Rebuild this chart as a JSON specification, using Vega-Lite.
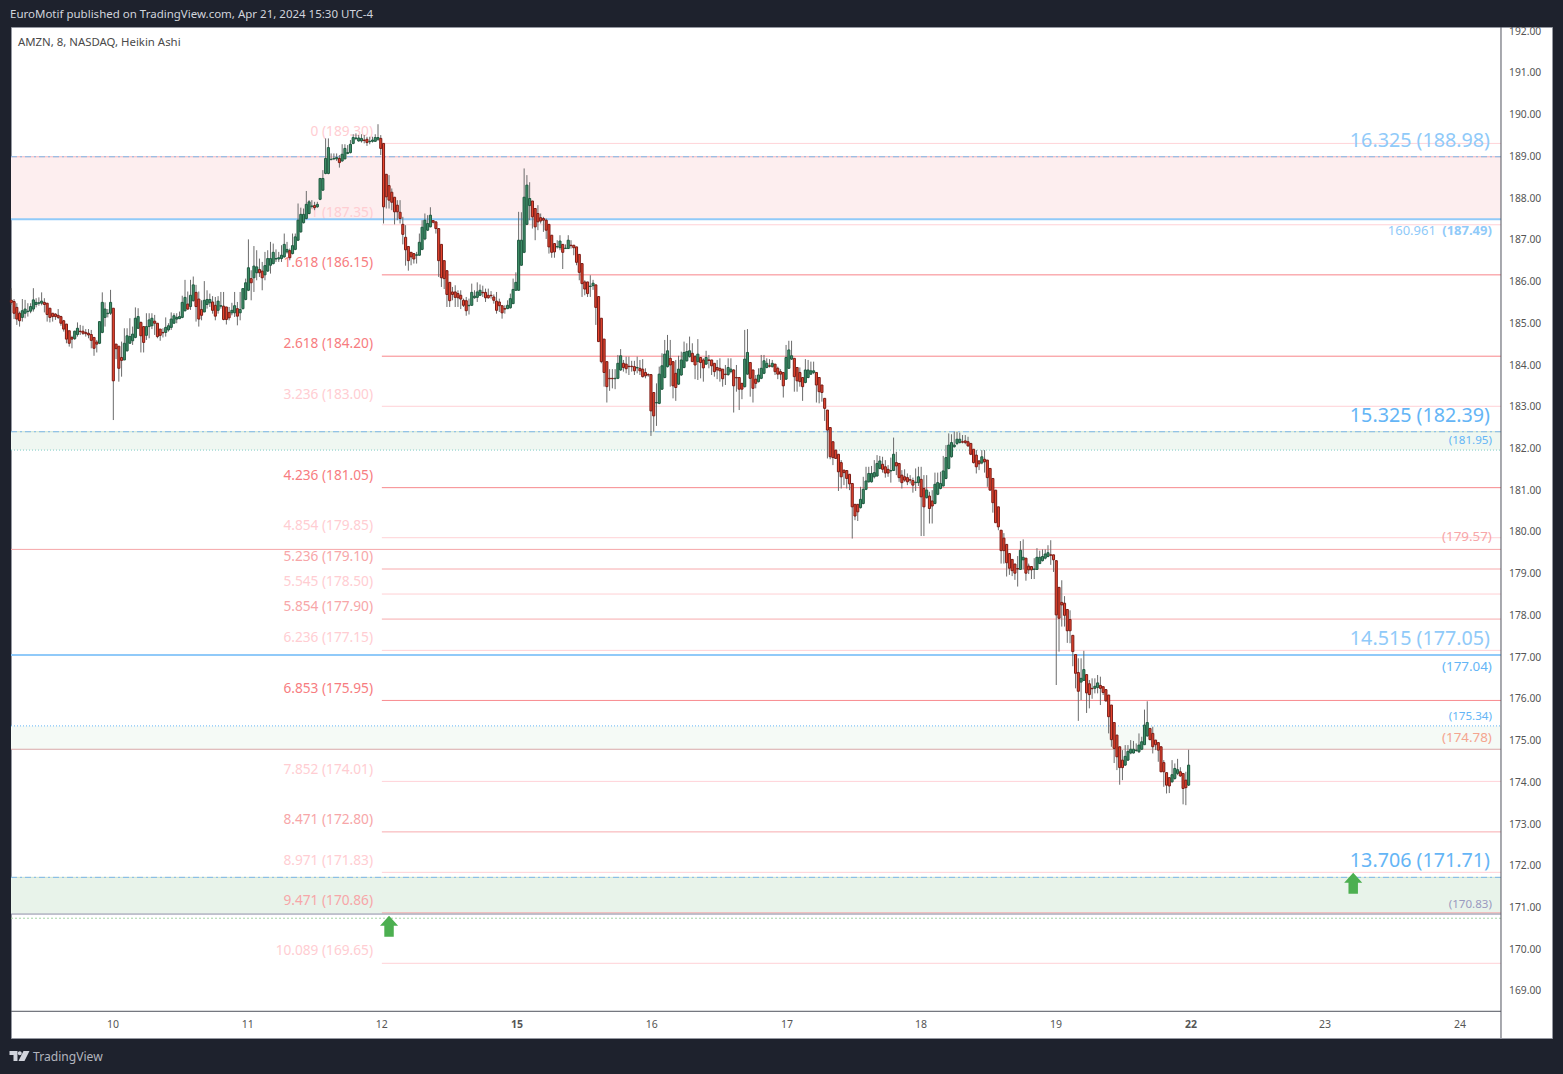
{
"$schema":"https://vega.github.io/schema/vega-lite/v6.json",
"width":1541,"height":1011,
"padding":{"left":11,"top":27,"right":11,"bottom":36},
"autosize":{"type":"none"},
"background":"#1e222d",
"view":{"fill":"#ffffff","stroke":"#9598a1"},
"config":{"text":{"font":"Noto Sans"}},
"resolve":{"scale":{"color":"independent","size":"independent","strokeDash":"independent","strokeWidth":"independent"}},
"datasets":{
"zones":[
{"zone":"pink","n":0.89,"to":541.3,"p":188.98,"p2":187.47},
{"zone":"green1","n":0.89,"to":541.3,"p":182.39,"p2":181.95},
{"zone":"green2","n":0.89,"to":541.3,"p":175.34,"p2":174.78},
{"zone":"green3","n":0.89,"to":541.3,"p":171.71,"p2":170.83}
],
"levels":[
{"p":189.30,"n":135.4,"to":541.3,"style":"fibPale"},
{"p":187.35,"n":135.4,"to":541.3,"style":"fibPale"},
{"p":186.15,"n":135.4,"to":541.3,"style":"fibStrong"},
{"p":184.20,"n":135.4,"to":541.3,"style":"fibStrong"},
{"p":183.00,"n":135.4,"to":541.3,"style":"fibPale"},
{"p":181.05,"n":135.4,"to":541.3,"style":"fibStrong"},
{"p":179.85,"n":135.4,"to":541.3,"style":"fibPale"},
{"p":179.10,"n":135.4,"to":541.3,"style":"fibMid"},
{"p":178.50,"n":135.4,"to":541.3,"style":"fibPale"},
{"p":177.90,"n":135.4,"to":541.3,"style":"fibMid"},
{"p":177.15,"n":135.4,"to":541.3,"style":"fibPale"},
{"p":175.95,"n":135.4,"to":541.3,"style":"fibStrong"},
{"p":174.01,"n":135.4,"to":541.3,"style":"fibPale"},
{"p":172.80,"n":135.4,"to":541.3,"style":"fibMid"},
{"p":171.83,"n":135.4,"to":541.3,"style":"fibPale"},
{"p":170.86,"n":135.4,"to":541.3,"style":"fibMid"},
{"p":169.65,"n":135.4,"to":541.3,"style":"fibPale"},
{"p":188.98,"n":0.89,"to":541.3,"style":"pinkBase"},
{"p":188.98,"n":0.89,"to":541.3,"style":"blueDash"},
{"p":187.48,"n":0.89,"to":541.3,"style":"blueThick"},
{"p":182.39,"n":0.89,"to":541.3,"style":"greenBase"},
{"p":182.39,"n":0.89,"to":541.3,"style":"blueDash"},
{"p":181.95,"n":0.89,"to":541.3,"style":"dotGreen"},
{"p":179.57,"n":0.89,"to":541.3,"style":"fibMid"},
{"p":177.04,"n":0.89,"to":541.3,"style":"blueThick"},
{"p":175.34,"n":0.89,"to":541.3,"style":"dotBlue"},
{"p":174.78,"n":0.89,"to":541.3,"style":"greyPink"},
{"p":171.71,"n":0.89,"to":541.3,"style":"greenBase"},
{"p":171.71,"n":0.89,"to":541.3,"style":"blueDash"},
{"p":170.83,"n":0.89,"to":541.3,"style":"purple"},
{"p":170.73,"n":0.89,"to":541.3,"style":"dotLight"},
{"p":168.50,"n":0.89,"to":541.3,"style":"axisLine"}
],
"frame":[{"n":541.3,"to":541.3,"p":192.09,"p2":167.86}],
"bars":[
{"n":1,"o":185.54,"c":185.49,"h":185.83,"l":185.43},{"n":2,"o":185.51,"c":185.23,"h":185.57,"l":185.09},{"n":3,"o":185.37,"c":185.09,"h":185.47,"l":184.95},{"n":4,"o":185.23,"c":185.05,"h":185.27,"l":184.91},{"n":5,"o":185.13,"c":185.29,"h":185.57,"l":185.03},{"n":6,"o":185.23,"c":185.33,"h":185.55,"l":185.11},{"n":7,"o":185.27,"c":185.28,"h":185.47,"l":185.15},{"n":8,"o":185.28,"c":185.39,"h":185.47,"l":185.23},{"n":9,"o":185.33,"c":185.55,"h":185.83,"l":185.27},{"n":10,"o":185.44,"c":185.49,"h":185.59,"l":185.37},
{"n":11,"o":185.47,"c":185.48,"h":185.61,"l":185.41},{"n":12,"o":185.47,"c":185.52,"h":185.73,"l":185.42},{"n":13,"o":185.49,"c":185.44,"h":185.59,"l":185.25},{"n":14,"o":185.47,"c":185.20,"h":185.47,"l":185.03},{"n":15,"o":185.35,"c":185.13,"h":185.35,"l":185.01},{"n":16,"o":185.23,"c":185.15,"h":185.23,"l":185.03},{"n":17,"o":185.21,"c":185.15,"h":185.23,"l":185.07},{"n":18,"o":185.18,"c":185.13,"h":185.33,"l":185.09},{"n":19,"o":185.15,"c":184.99,"h":185.17,"l":184.93},{"n":20,"o":185.05,"c":184.85,"h":185.07,"l":184.79},
{"n":21,"o":184.97,"c":184.61,"h":184.97,"l":184.51},{"n":22,"o":184.81,"c":184.51,"h":184.81,"l":184.43},{"n":23,"o":184.65,"c":184.61,"h":184.69,"l":184.39},{"n":24,"o":184.62,"c":184.80,"h":184.81,"l":184.59},{"n":25,"o":184.72,"c":184.87,"h":185.01,"l":184.67},{"n":26,"o":184.80,"c":184.79,"h":184.95,"l":184.71},{"n":27,"o":184.80,"c":184.75,"h":184.93,"l":184.71},{"n":28,"o":184.77,"c":184.74,"h":184.85,"l":184.67},{"n":29,"o":184.75,"c":184.71,"h":184.85,"l":184.63},{"n":30,"o":184.72,"c":184.58,"h":184.83,"l":184.39},
{"n":31,"o":184.65,"c":184.39,"h":184.65,"l":184.21},{"n":32,"o":184.54,"c":184.49,"h":184.59,"l":184.29},{"n":33,"o":184.51,"c":185.03,"h":185.03,"l":184.49},{"n":34,"o":184.77,"c":185.49,"h":185.73,"l":184.75},{"n":35,"o":185.13,"c":185.33,"h":185.49,"l":184.91},{"n":36,"o":185.22,"c":185.23,"h":185.33,"l":185.13},{"n":37,"o":185.23,"c":185.49,"h":185.79,"l":185.19},{"n":38,"o":185.35,"c":183.61,"h":185.35,"l":182.67},{"n":39,"o":184.49,"c":184.38,"h":184.49,"l":184.13},{"n":40,"o":184.44,"c":183.91,"h":184.44,"l":183.59},
{"n":41,"o":184.17,"c":184.10,"h":184.55,"l":183.71},{"n":42,"o":184.11,"c":184.51,"h":184.87,"l":184.11},{"n":43,"o":184.33,"c":184.69,"h":184.87,"l":184.31},{"n":44,"o":184.51,"c":184.67,"h":185.11,"l":184.51},{"n":45,"o":184.57,"c":184.73,"h":184.91,"l":184.47},{"n":46,"o":184.65,"c":185.11,"h":185.37,"l":184.63},{"n":47,"o":184.87,"c":185.15,"h":185.35,"l":184.85},{"n":48,"o":185.01,"c":184.69,"h":185.03,"l":184.29},{"n":49,"o":184.91,"c":184.53,"h":184.91,"l":184.29},{"n":50,"o":184.70,"c":184.91,"h":185.23,"l":184.59},
{"n":51,"o":184.91,"c":185.07,"h":185.23,"l":184.63},{"n":52,"o":184.93,"c":185.11,"h":185.23,"l":184.85},{"n":53,"o":185.04,"c":184.99,"h":185.19,"l":184.71},{"n":54,"o":184.99,"c":184.67,"h":184.99,"l":184.63},{"n":55,"o":184.85,"c":184.70,"h":184.85,"l":184.57},{"n":56,"o":184.77,"c":184.76,"h":184.87,"l":184.65},{"n":57,"o":184.77,"c":184.89,"h":185.13,"l":184.67},{"n":58,"o":184.83,"c":184.93,"h":184.99,"l":184.79},{"n":59,"o":184.89,"c":185.09,"h":185.25,"l":184.83},{"n":60,"o":184.99,"c":185.17,"h":185.23,"l":184.99},
{"n":61,"o":185.09,"c":185.13,"h":185.23,"l":184.99},{"n":62,"o":185.10,"c":185.15,"h":185.27,"l":185.09},{"n":63,"o":185.13,"c":185.49,"h":185.65,"l":185.11},{"n":64,"o":185.29,"c":185.61,"h":186.03,"l":185.27},{"n":65,"o":185.45,"c":185.33,"h":185.75,"l":185.31},{"n":66,"o":185.39,"c":185.66,"h":186.03,"l":185.31},{"n":67,"o":185.53,"c":185.91,"h":186.11,"l":185.51},{"n":68,"o":185.73,"c":185.39,"h":185.91,"l":185.03},{"n":69,"o":185.57,"c":185.09,"h":185.75,"l":184.91},{"n":70,"o":185.32,"c":185.18,"h":185.54,"l":185.06},
{"n":71,"o":185.26,"c":185.54,"h":186.00,"l":185.26},{"n":72,"o":185.44,"c":185.56,"h":185.78,"l":185.34},{"n":73,"o":185.48,"c":185.56,"h":185.70,"l":185.38},{"n":74,"o":185.50,"c":185.30,"h":185.64,"l":185.22},{"n":75,"o":185.42,"c":185.16,"h":185.62,"l":185.06},{"n":76,"o":185.30,"c":185.52,"h":185.64,"l":185.22},{"n":77,"o":185.40,"c":185.41,"h":185.74,"l":185.34},{"n":78,"o":185.40,"c":185.08,"h":185.74,"l":185.06},{"n":79,"o":185.38,"c":185.08,"h":185.38,"l":184.96},{"n":80,"o":185.25,"c":185.12,"h":185.38,"l":185.06},
{"n":81,"o":185.24,"c":185.30,"h":185.48,"l":185.18},{"n":82,"o":185.24,"c":185.41,"h":185.74,"l":185.14},{"n":83,"o":185.34,"c":185.16,"h":185.50,"l":184.94},{"n":84,"o":185.24,"c":185.32,"h":185.74,"l":185.06},{"n":85,"o":185.34,"c":185.82,"h":185.82,"l":185.32},{"n":86,"o":185.56,"c":185.96,"h":186.06,"l":185.54},{"n":87,"o":185.78,"c":186.32,"h":187.00,"l":185.76},{"n":88,"o":186.06,"c":185.96,"h":186.26,"l":185.54},{"n":89,"o":186.08,"c":186.36,"h":186.84,"l":185.74},{"n":90,"o":186.20,"c":186.34,"h":186.74,"l":186.02},
{"n":91,"o":186.28,"c":186.20,"h":186.54,"l":186.10},{"n":92,"o":186.24,"c":186.08,"h":186.46,"l":185.78},{"n":93,"o":186.15,"c":186.37,"h":186.70,"l":186.02},{"n":94,"o":186.24,"c":186.54,"h":186.74,"l":186.22},{"n":95,"o":186.38,"c":186.54,"h":186.94,"l":186.18},{"n":96,"o":186.42,"c":186.69,"h":186.90,"l":186.40},{"n":97,"o":186.53,"c":186.54,"h":186.76,"l":186.46},{"n":98,"o":186.53,"c":186.56,"h":186.70,"l":186.46},{"n":99,"o":186.54,"c":186.62,"h":186.86,"l":186.46},{"n":100,"o":186.58,"c":186.88,"h":187.14,"l":186.56},
{"n":101,"o":186.70,"c":186.76,"h":186.94,"l":186.66},{"n":102,"o":186.73,"c":186.56,"h":186.78,"l":186.50},{"n":103,"o":186.66,"c":186.85,"h":187.14,"l":186.64},{"n":104,"o":186.76,"c":187.06,"h":187.14,"l":186.74},{"n":105,"o":186.98,"c":187.46,"h":187.86,"l":186.96},{"n":106,"o":187.18,"c":187.60,"h":187.76,"l":187.16},{"n":107,"o":187.40,"c":187.60,"h":187.74,"l":187.38},{"n":108,"o":187.50,"c":187.84,"h":188.16,"l":187.48},{"n":109,"o":187.62,"c":187.90,"h":187.94,"l":187.60},{"n":110,"o":187.79,"c":187.80,"h":187.94,"l":187.74},
{"n":111,"o":187.81,"c":187.76,"h":187.90,"l":187.70},{"n":112,"o":187.78,"c":187.84,"h":187.90,"l":187.76},{"n":113,"o":187.96,"c":188.46,"h":188.46,"l":187.94},{"n":114,"o":188.18,"c":188.46,"h":188.66,"l":188.16},{"n":115,"o":188.58,"c":188.94,"h":189.42,"l":188.56},{"n":116,"o":188.58,"c":189.20,"h":189.42,"l":188.56},{"n":117,"o":188.91,"c":188.92,"h":189.06,"l":188.90},{"n":118,"o":188.93,"c":188.94,"h":189.06,"l":188.90},{"n":119,"o":188.93,"c":188.96,"h":189.06,"l":188.88},{"n":120,"o":188.94,"c":188.84,"h":189.02,"l":188.72},
{"n":121,"o":188.88,"c":189.04,"h":189.28,"l":188.86},{"n":122,"o":188.93,"c":189.18,"h":189.28,"l":188.92},{"n":123,"o":189.06,"c":189.08,"h":189.26,"l":189.04},{"n":124,"o":189.08,"c":189.28,"h":189.38,"l":189.06},{"n":125,"o":189.30,"c":189.44,"h":189.52,"l":189.28},{"n":126,"o":189.42,"c":189.43,"h":189.54,"l":189.38},{"n":127,"o":189.36,"c":189.43,"h":189.50,"l":189.34},{"n":128,"o":189.36,"c":189.42,"h":189.52,"l":189.32},{"n":129,"o":189.38,"c":189.37,"h":189.50,"l":189.30},{"n":130,"o":189.40,"c":189.32,"h":189.46,"l":189.24},
{"n":131,"o":189.34,"c":189.35,"h":189.46,"l":189.28},{"n":132,"o":189.35,"c":189.38,"h":189.46,"l":189.32},{"n":133,"o":189.35,"c":189.44,"h":189.52,"l":189.34},{"n":134,"o":189.40,"c":189.44,"h":189.76,"l":189.36},{"n":135,"o":189.42,"c":189.18,"h":189.50,"l":189.02},{"n":136,"o":189.30,"c":187.78,"h":189.30,"l":187.38},{"n":137,"o":188.56,"c":188.02,"h":188.56,"l":187.74},{"n":138,"o":188.29,"c":187.94,"h":188.54,"l":187.74},{"n":139,"o":188.13,"c":187.89,"h":188.22,"l":187.70},{"n":140,"o":188.01,"c":187.66,"h":188.01,"l":187.36},
{"n":141,"o":187.82,"c":187.66,"h":187.94,"l":187.46},{"n":142,"o":187.65,"c":187.50,"h":187.94,"l":187.38},{"n":143,"o":187.36,"c":187.12,"h":187.54,"l":186.88},{"n":144,"o":187.05,"c":186.75,"h":187.34,"l":186.37},{"n":145,"o":186.83,"c":186.49,"h":186.83,"l":186.25},{"n":146,"o":186.69,"c":186.58,"h":186.69,"l":186.38},{"n":147,"o":186.66,"c":186.53,"h":186.66,"l":186.42},{"n":148,"o":186.62,"c":186.63,"h":186.70,"l":186.42},{"n":149,"o":186.62,"c":186.93,"h":187.14,"l":186.61},{"n":150,"o":186.76,"c":187.29,"h":187.46,"l":186.74},
{"n":151,"o":187.01,"c":187.46,"h":187.62,"l":186.98},{"n":152,"o":187.22,"c":187.38,"h":187.58,"l":187.20},{"n":153,"o":187.30,"c":187.58,"h":187.77,"l":187.29},{"n":154,"o":187.45,"c":187.41,"h":187.46,"l":187.38},{"n":155,"o":187.42,"c":187.26,"h":187.42,"l":187.14},{"n":156,"o":187.26,"c":186.49,"h":187.26,"l":186.10},{"n":157,"o":186.88,"c":186.08,"h":186.88,"l":185.86},{"n":158,"o":186.49,"c":186.06,"h":186.49,"l":185.81},{"n":159,"o":186.25,"c":185.68,"h":186.25,"l":185.38},{"n":160,"o":185.97,"c":185.53,"h":185.97,"l":185.38},
{"n":161,"o":185.74,"c":185.68,"h":185.86,"l":185.54},{"n":162,"o":185.74,"c":185.61,"h":185.90,"l":185.38},{"n":163,"o":185.70,"c":185.60,"h":185.78,"l":185.38},{"n":164,"o":185.66,"c":185.57,"h":185.78,"l":185.33},{"n":165,"o":185.54,"c":185.42,"h":185.58,"l":185.38},{"n":166,"o":185.53,"c":185.29,"h":185.62,"l":185.17},{"n":167,"o":185.41,"c":185.42,"h":185.58,"l":185.20},{"n":168,"o":185.42,"c":185.73,"h":185.94,"l":185.41},{"n":169,"o":185.60,"c":185.64,"h":185.78,"l":185.58},{"n":170,"o":185.61,"c":185.74,"h":185.97,"l":185.50},
{"n":171,"o":185.66,"c":185.78,"h":185.92,"l":185.65},{"n":172,"o":185.73,"c":185.72,"h":185.89,"l":185.62},{"n":173,"o":185.73,"c":185.60,"h":185.82,"l":185.50},{"n":174,"o":185.66,"c":185.60,"h":185.82,"l":185.58},{"n":175,"o":185.66,"c":185.65,"h":185.76,"l":185.58},{"n":176,"o":185.62,"c":185.54,"h":185.68,"l":185.46},{"n":177,"o":185.52,"c":185.30,"h":185.74,"l":185.22},{"n":178,"o":185.50,"c":185.41,"h":185.58,"l":185.26},{"n":179,"o":185.41,"c":185.24,"h":185.42,"l":185.10},{"n":180,"o":185.34,"c":185.33,"h":185.42,"l":185.22},
{"n":181,"o":185.34,"c":185.42,"h":185.54,"l":185.33},{"n":182,"o":185.36,"c":185.58,"h":185.70,"l":185.34},{"n":183,"o":185.46,"c":185.80,"h":186.06,"l":185.45},{"n":184,"o":185.78,"c":185.97,"h":186.21,"l":185.77},{"n":185,"o":185.78,"c":186.98,"h":187.66,"l":185.77},{"n":186,"o":186.38,"c":186.98,"h":187.65,"l":186.37},{"n":187,"o":186.69,"c":188.01,"h":188.70,"l":186.67},{"n":188,"o":187.36,"c":188.30,"h":188.54,"l":187.34},{"n":189,"o":187.81,"c":187.98,"h":188.37,"l":187.46},{"n":190,"o":187.92,"c":187.54,"h":187.92,"l":187.26},
{"n":191,"o":187.74,"c":187.30,"h":187.74,"l":186.98},{"n":192,"o":187.62,"c":187.42,"h":187.82,"l":187.22},{"n":193,"o":187.52,"c":187.44,"h":187.62,"l":187.38},{"n":194,"o":187.50,"c":187.46,"h":187.54,"l":187.18},{"n":195,"o":187.46,"c":187.22,"h":187.50,"l":187.01},{"n":196,"o":187.36,"c":186.82,"h":187.36,"l":186.66},{"n":197,"o":187.10,"c":186.69,"h":187.10,"l":186.56},{"n":198,"o":186.90,"c":186.70,"h":186.90,"l":186.56},{"n":199,"o":186.82,"c":186.83,"h":186.98,"l":186.78},{"n":200,"o":186.80,"c":186.96,"h":187.10,"l":186.74},
{"n":201,"o":186.88,"c":186.69,"h":186.88,"l":186.29},{"n":202,"o":186.78,"c":186.79,"h":186.88,"l":186.77},{"n":203,"o":186.78,"c":186.98,"h":187.10,"l":186.77},{"n":204,"o":186.86,"c":186.85,"h":186.98,"l":186.78},{"n":205,"o":186.86,"c":186.80,"h":186.86,"l":186.62},{"n":206,"o":186.82,"c":186.45,"h":186.82,"l":186.38},{"n":207,"o":186.64,"c":186.21,"h":186.64,"l":186.02},{"n":208,"o":186.42,"c":185.94,"h":186.42,"l":185.62},{"n":209,"o":185.98,"c":185.81,"h":186.02,"l":185.66},{"n":210,"o":185.98,"c":185.70,"h":185.98,"l":185.62},
{"n":211,"o":185.87,"c":185.88,"h":186.14,"l":185.62},{"n":212,"o":185.89,"c":185.95,"h":186.03,"l":185.79},{"n":213,"o":185.91,"c":185.37,"h":185.91,"l":184.95},{"n":214,"o":185.63,"c":184.55,"h":185.63,"l":184.55},{"n":215,"o":185.11,"c":184.07,"h":185.11,"l":184.03},{"n":216,"o":184.61,"c":183.81,"h":184.61,"l":183.47},{"n":217,"o":184.07,"c":183.47,"h":184.07,"l":183.09},{"n":218,"o":183.67,"c":183.66,"h":183.89,"l":183.37},{"n":219,"o":183.67,"c":183.66,"h":183.89,"l":183.43},{"n":220,"o":183.66,"c":183.67,"h":183.89,"l":183.41},
{"n":221,"o":183.67,"c":184.03,"h":184.23,"l":183.65},{"n":222,"o":183.87,"c":184.21,"h":184.37,"l":183.85},{"n":223,"o":184.03,"c":183.93,"h":184.11,"l":183.83},{"n":224,"o":184.01,"c":183.90,"h":184.19,"l":183.79},{"n":225,"o":183.96,"c":183.95,"h":184.19,"l":183.75},{"n":226,"o":183.96,"c":183.95,"h":184.09,"l":183.83},{"n":227,"o":183.95,"c":183.85,"h":184.09,"l":183.75},{"n":228,"o":183.92,"c":183.93,"h":184.19,"l":183.79},{"n":229,"o":183.91,"c":183.85,"h":184.11,"l":183.75},{"n":230,"o":183.89,"c":183.71,"h":184.13,"l":183.69},
{"n":231,"o":183.81,"c":183.73,"h":183.91,"l":183.67},{"n":232,"o":183.76,"c":183.75,"h":183.79,"l":183.71},{"n":233,"o":183.76,"c":182.89,"h":183.76,"l":182.29},{"n":234,"o":183.33,"c":182.77,"h":183.33,"l":182.39},{"n":235,"o":183.08,"c":183.09,"h":183.55,"l":182.53},{"n":236,"o":183.07,"c":183.77,"h":183.95,"l":183.05},{"n":237,"o":183.41,"c":183.97,"h":184.27,"l":183.39},{"n":238,"o":183.69,"c":184.25,"h":184.59,"l":183.67},{"n":239,"o":183.95,"c":184.33,"h":184.71,"l":183.93},{"n":240,"o":184.15,"c":183.99,"h":184.59,"l":183.47},
{"n":241,"o":184.07,"c":183.49,"h":184.07,"l":183.19},{"n":242,"o":183.79,"c":183.45,"h":184.11,"l":183.13},{"n":243,"o":183.53,"c":183.89,"h":184.21,"l":183.51},{"n":244,"o":183.75,"c":184.11,"h":184.31,"l":183.73},{"n":245,"o":183.93,"c":184.29,"h":184.55,"l":183.91},{"n":246,"o":184.09,"c":184.31,"h":184.51,"l":184.07},{"n":247,"o":184.19,"c":184.33,"h":184.67,"l":184.17},{"n":248,"o":184.27,"c":184.07,"h":184.51,"l":184.07},{"n":249,"o":184.19,"c":183.99,"h":184.23,"l":183.65},{"n":250,"o":184.07,"c":184.25,"h":184.61,"l":183.63},
{"n":251,"o":184.17,"c":184.05,"h":184.17,"l":183.67},{"n":252,"o":184.11,"c":183.92,"h":184.15,"l":183.59},{"n":253,"o":184.01,"c":184.17,"h":184.33,"l":183.99},{"n":254,"o":184.11,"c":184.10,"h":184.23,"l":183.91},{"n":255,"o":184.11,"c":183.97,"h":184.11,"l":183.75},{"n":256,"o":184.03,"c":183.83,"h":184.03,"l":183.71},{"n":257,"o":183.93,"c":183.87,"h":184.11,"l":183.65},{"n":258,"o":183.91,"c":183.85,"h":184.15,"l":183.59},{"n":259,"o":183.89,"c":183.66,"h":183.89,"l":183.47},{"n":260,"o":183.77,"c":183.76,"h":183.99,"l":183.51},
{"n":261,"o":183.76,"c":183.93,"h":184.15,"l":183.73},{"n":262,"o":183.83,"c":183.89,"h":184.15,"l":183.79},{"n":263,"o":183.87,"c":183.49,"h":183.89,"l":182.85},{"n":264,"o":183.69,"c":183.68,"h":183.99,"l":183.35},{"n":265,"o":183.69,"c":183.41,"h":183.69,"l":182.91},{"n":266,"o":183.55,"c":183.41,"h":183.55,"l":183.17},{"n":267,"o":183.47,"c":184.13,"h":184.83,"l":183.45},{"n":268,"o":183.77,"c":184.29,"h":184.85,"l":183.76},{"n":269,"o":184.05,"c":183.67,"h":184.05,"l":183.23},{"n":270,"o":183.87,"c":183.43,"h":183.87,"l":183.09},
{"n":271,"o":183.65,"c":183.55,"h":183.75,"l":183.43},{"n":272,"o":183.59,"c":183.75,"h":183.91,"l":183.57},{"n":273,"o":183.67,"c":183.91,"h":184.23,"l":183.65},{"n":274,"o":183.79,"c":184.09,"h":184.23,"l":183.77},{"n":275,"o":183.93,"c":184.03,"h":184.15,"l":183.91},{"n":276,"o":183.97,"c":183.96,"h":184.13,"l":183.93},{"n":277,"o":183.95,"c":184.03,"h":184.11,"l":183.93},{"n":278,"o":184.01,"c":183.83,"h":184.01,"l":183.75},{"n":279,"o":183.91,"c":183.77,"h":183.95,"l":183.65},{"n":280,"o":183.83,"c":183.77,"h":183.89,"l":183.63},
{"n":281,"o":183.81,"c":183.49,"h":183.81,"l":183.21},{"n":282,"o":183.65,"c":184.17,"h":184.47,"l":183.63},{"n":283,"o":183.91,"c":184.35,"h":184.57,"l":183.90},{"n":284,"o":184.13,"c":184.21,"h":184.57,"l":184.11},{"n":285,"o":184.15,"c":183.71,"h":184.15,"l":183.35},{"n":286,"o":183.93,"c":183.61,"h":183.93,"l":183.35},{"n":287,"o":183.81,"c":183.59,"h":183.93,"l":183.47},{"n":288,"o":183.69,"c":183.47,"h":183.69,"l":183.13},{"n":289,"o":183.57,"c":183.87,"h":184.13,"l":183.55},{"n":290,"o":183.69,"c":183.87,"h":184.11,"l":183.67},
{"n":291,"o":183.77,"c":183.85,"h":184.07,"l":183.75},{"n":292,"o":183.81,"c":183.85,"h":184.07,"l":183.77},{"n":293,"o":183.81,"c":183.51,"h":183.81,"l":183.09},{"n":294,"o":183.69,"c":183.35,"h":183.69,"l":183.07},{"n":295,"o":183.51,"c":183.33,"h":183.51,"l":183.11},{"n":296,"o":183.19,"c":182.95,"h":183.19,"l":182.65},{"n":297,"o":182.91,"c":182.43,"h":182.91,"l":181.75},{"n":298,"o":182.49,"c":181.79,"h":182.49,"l":181.73},{"n":299,"o":182.15,"c":181.77,"h":182.15,"l":181.59},{"n":300,"o":181.95,"c":181.75,"h":181.95,"l":181.75},
{"n":301,"o":181.85,"c":181.43,"h":181.85,"l":180.97},{"n":302,"o":181.65,"c":181.31,"h":181.71,"l":181.03},{"n":303,"o":181.47,"c":181.41,"h":181.47,"l":181.11},{"n":304,"o":181.46,"c":181.27,"h":181.46,"l":181.03},{"n":305,"o":181.37,"c":181.14,"h":181.37,"l":180.99},{"n":306,"o":181.15,"c":180.59,"h":181.15,"l":179.83},{"n":307,"o":180.65,"c":180.37,"h":180.65,"l":180.27},{"n":308,"o":180.65,"c":180.47,"h":180.65,"l":180.25},{"n":309,"o":180.57,"c":180.77,"h":181.07,"l":180.55},{"n":310,"o":180.67,"c":181.01,"h":181.31,"l":180.65},
{"n":311,"o":181.01,"c":181.21,"h":181.55,"l":180.99},{"n":312,"o":181.19,"c":181.39,"h":181.55,"l":181.17},{"n":313,"o":181.19,"c":181.39,"h":181.57,"l":181.17},{"n":314,"o":181.31,"c":181.41,"h":181.71,"l":181.27},{"n":315,"o":181.33,"c":181.63,"h":181.83,"l":181.31},{"n":316,"o":181.51,"c":181.69,"h":181.81,"l":181.49},{"n":317,"o":181.61,"c":181.49,"h":181.79,"l":181.41},{"n":318,"o":181.55,"c":181.40,"h":181.71,"l":181.29},{"n":319,"o":181.49,"c":181.40,"h":181.59,"l":181.31},{"n":320,"o":181.45,"c":181.46,"h":181.77,"l":181.17},
{"n":321,"o":181.46,"c":181.85,"h":182.25,"l":181.45},{"n":322,"o":181.65,"c":181.57,"h":181.91,"l":181.35},{"n":323,"o":181.63,"c":181.29,"h":181.63,"l":181.19},{"n":324,"o":181.35,"c":181.17,"h":181.47,"l":181.03},{"n":325,"o":181.31,"c":181.23,"h":181.49,"l":181.19},{"n":326,"o":181.29,"c":181.19,"h":181.39,"l":181.11},{"n":327,"o":181.24,"c":181.23,"h":181.35,"l":181.15},{"n":328,"o":181.22,"c":181.11,"h":181.29,"l":180.93},{"n":329,"o":181.17,"c":181.18,"h":181.51,"l":180.97},{"n":330,"o":181.17,"c":181.31,"h":181.55,"l":181.09},
{"n":331,"o":181.25,"c":180.83,"h":181.55,"l":179.89},{"n":332,"o":181.03,"c":180.59,"h":181.35,"l":179.89},{"n":333,"o":180.81,"c":180.99,"h":181.35,"l":180.79},{"n":334,"o":180.85,"c":180.55,"h":180.95,"l":180.19},{"n":335,"o":180.73,"c":180.61,"h":180.99,"l":180.19},{"n":336,"o":180.67,"c":181.13,"h":181.41,"l":180.65},{"n":337,"o":180.89,"c":181.17,"h":181.41,"l":180.87},{"n":338,"o":181.03,"c":181.15,"h":181.43,"l":181.01},{"n":339,"o":181.09,"c":181.45,"h":181.81,"l":181.08},{"n":340,"o":181.27,"c":181.77,"h":182.07,"l":181.25},
{"n":341,"o":181.51,"c":182.07,"h":182.35,"l":181.49},{"n":342,"o":181.79,"c":182.13,"h":182.33,"l":181.77},{"n":343,"o":182.03,"c":182.07,"h":182.39,"l":182.01},{"n":344,"o":182.11,"c":182.21,"h":182.39,"l":182.07},{"n":345,"o":182.13,"c":182.21,"h":182.37,"l":182.11},{"n":346,"o":182.15,"c":182.14,"h":182.31,"l":182.11},{"n":347,"o":182.17,"c":182.13,"h":182.31,"l":182.09},{"n":348,"o":182.15,"c":182.05,"h":182.27,"l":182.03},{"n":349,"o":182.11,"c":181.85,"h":182.11,"l":181.83},{"n":350,"o":181.97,"c":181.65,"h":181.97,"l":181.63},
{"n":351,"o":181.83,"c":181.55,"h":181.95,"l":181.39},{"n":352,"o":181.69,"c":181.62,"h":181.71,"l":181.47},{"n":353,"o":181.64,"c":181.79,"h":181.95,"l":181.61},{"n":354,"o":181.73,"c":181.67,"h":181.95,"l":181.41},{"n":355,"o":181.71,"c":181.29,"h":181.71,"l":181.07},{"n":356,"o":181.51,"c":180.99,"h":181.51,"l":180.99},{"n":357,"o":181.27,"c":180.69,"h":181.27,"l":180.45},{"n":358,"o":180.99,"c":180.21,"h":180.99,"l":180.21},{"n":359,"o":180.59,"c":180.11,"h":180.59,"l":180.03},{"n":360,"o":180.03,"c":179.54,"h":180.03,"l":179.23},
{"n":361,"o":179.84,"c":179.54,"h":179.96,"l":179.23},{"n":362,"o":179.69,"c":179.25,"h":179.69,"l":178.92},{"n":363,"o":179.47,"c":179.12,"h":179.47,"l":178.96},{"n":364,"o":179.33,"c":179.06,"h":179.33,"l":178.93},{"n":365,"o":179.22,"c":179.00,"h":179.22,"l":178.84},{"n":366,"o":179.11,"c":179.10,"h":179.41,"l":178.68},{"n":367,"o":179.09,"c":179.55,"h":179.77,"l":179.08},{"n":368,"o":179.32,"c":179.38,"h":179.81,"l":179.09},{"n":369,"o":179.36,"c":179.00,"h":179.36,"l":178.82},{"n":370,"o":179.17,"c":179.08,"h":179.23,"l":178.98},
{"n":371,"o":179.16,"c":179.08,"h":179.16,"l":178.86},{"n":372,"o":179.09,"c":179.10,"h":179.36,"l":178.86},{"n":373,"o":179.09,"c":179.38,"h":179.60,"l":179.08},{"n":374,"o":179.23,"c":179.38,"h":179.54,"l":179.22},{"n":375,"o":179.30,"c":179.40,"h":179.57,"l":179.28},{"n":376,"o":179.36,"c":179.46,"h":179.57,"l":179.33},{"n":377,"o":179.40,"c":179.49,"h":179.67,"l":179.38},{"n":378,"o":179.44,"c":179.43,"h":179.79,"l":179.20},{"n":379,"o":179.44,"c":179.32,"h":179.44,"l":179.03},{"n":380,"o":179.30,"c":178.00,"h":179.30,"l":176.32},
{"n":381,"o":178.66,"c":177.92,"h":178.66,"l":177.12},{"n":382,"o":178.30,"c":178.24,"h":178.83,"l":177.72},{"n":383,"o":178.28,"c":177.99,"h":178.45,"l":177.72},{"n":384,"o":178.13,"c":177.62,"h":178.13,"l":177.33},{"n":385,"o":177.89,"c":177.62,"h":178.11,"l":177.32},{"n":386,"o":177.51,"c":177.12,"h":177.51,"l":176.77},{"n":387,"o":177.05,"c":176.60,"h":177.05,"l":176.24},{"n":388,"o":176.62,"c":176.17,"h":176.96,"l":175.46},{"n":389,"o":176.39,"c":176.48,"h":176.96,"l":175.96},{"n":390,"o":176.43,"c":176.69,"h":177.14,"l":176.42},
{"n":391,"o":176.57,"c":176.13,"h":176.57,"l":175.65},{"n":392,"o":176.35,"c":176.09,"h":176.44,"l":175.76},{"n":393,"o":176.24,"c":176.23,"h":176.48,"l":175.99},{"n":394,"o":176.24,"c":176.29,"h":176.48,"l":176.12},{"n":395,"o":176.26,"c":176.37,"h":176.56,"l":176.12},{"n":396,"o":176.31,"c":176.24,"h":176.52,"l":175.84},{"n":397,"o":176.28,"c":176.14,"h":176.28,"l":176.08},{"n":398,"o":176.21,"c":175.94,"h":176.21,"l":175.92},{"n":399,"o":176.08,"c":175.56,"h":176.08,"l":175.16},{"n":400,"o":175.84,"c":175.01,"h":175.84,"l":174.84},
{"n":401,"o":175.42,"c":174.80,"h":175.42,"l":174.45},{"n":402,"o":175.12,"c":174.60,"h":175.12,"l":174.28},{"n":403,"o":174.84,"c":174.34,"h":174.84,"l":173.93},{"n":404,"o":174.52,"c":174.34,"h":174.76,"l":174.04},{"n":405,"o":174.40,"c":174.61,"h":174.88,"l":174.38},{"n":406,"o":174.52,"c":174.73,"h":174.88,"l":174.50},{"n":407,"o":174.69,"c":174.78,"h":175.00,"l":174.66},{"n":408,"o":174.69,"c":174.78,"h":174.98,"l":174.68},{"n":409,"o":174.75,"c":174.76,"h":174.92,"l":174.72},{"n":410,"o":174.72,"c":174.88,"h":175.16,"l":174.69},
{"n":411,"o":174.78,"c":174.96,"h":175.08,"l":174.76},{"n":412,"o":174.89,"c":175.36,"h":175.73,"l":174.88},{"n":413,"o":175.10,"c":175.42,"h":175.93,"l":175.08},{"n":414,"o":175.28,"c":175.01,"h":175.28,"l":175.00},{"n":415,"o":175.16,"c":174.84,"h":175.32,"l":174.68},{"n":416,"o":175.00,"c":174.89,"h":175.00,"l":174.76},{"n":417,"o":174.94,"c":174.76,"h":174.94,"l":174.48},{"n":418,"o":174.84,"c":174.24,"h":174.84,"l":174.24},{"n":419,"o":174.46,"c":174.24,"h":174.52,"l":173.88},{"n":420,"o":174.22,"c":173.92,"h":174.22,"l":173.72},
{"n":421,"o":174.10,"c":173.90,"h":174.10,"l":173.73},{"n":422,"o":174.00,"c":174.17,"h":174.52,"l":173.98},{"n":423,"o":174.08,"c":174.32,"h":174.44,"l":174.05},{"n":424,"o":174.20,"c":174.29,"h":174.55,"l":174.16},{"n":425,"o":174.24,"c":174.14,"h":174.35,"l":174.12},{"n":426,"o":174.20,"c":173.84,"h":174.20,"l":173.46},{"n":427,"o":174.04,"c":173.86,"h":174.24,"l":173.44},{"n":428,"o":173.92,"c":174.40,"h":174.77,"l":173.90}
],
"arrows":[{"n":138,"p":170.54},{"n":487.7,"p":171.57}],
"logo":[{"n":3.97,"p":167.43}],
"textLeft":[
{"n":0.53,"p":192.40,"label":"EuroMotif published on TradingView.com, Apr 21, 2024 15:30 UTC-4","kind":"header"},
{"n":3.4,"p":191.73,"label":"AMZN, 8, NASDAQ, Heikin Ashi","kind":"symbol"},
{"n":8.9,"p":167.43,"label":"TradingView","kind":"footer"},
{"n":544.2,"p":192,"label":"192.00","kind":"axis"},{"n":544.2,"p":191,"label":"191.00","kind":"axis"},{"n":544.2,"p":190,"label":"190.00","kind":"axis"},{"n":544.2,"p":189,"label":"189.00","kind":"axis"},{"n":544.2,"p":188,"label":"188.00","kind":"axis"},{"n":544.2,"p":187,"label":"187.00","kind":"axis"},{"n":544.2,"p":186,"label":"186.00","kind":"axis"},{"n":544.2,"p":185,"label":"185.00","kind":"axis"},{"n":544.2,"p":184,"label":"184.00","kind":"axis"},{"n":544.2,"p":183,"label":"183.00","kind":"axis"},{"n":544.2,"p":182,"label":"182.00","kind":"axis"},{"n":544.2,"p":181,"label":"181.00","kind":"axis"},{"n":544.2,"p":180,"label":"180.00","kind":"axis"},{"n":544.2,"p":179,"label":"179.00","kind":"axis"},{"n":544.2,"p":178,"label":"178.00","kind":"axis"},{"n":544.2,"p":177,"label":"177.00","kind":"axis"},{"n":544.2,"p":176,"label":"176.00","kind":"axis"},{"n":544.2,"p":175,"label":"175.00","kind":"axis"},{"n":544.2,"p":174,"label":"174.00","kind":"axis"},{"n":544.2,"p":173,"label":"173.00","kind":"axis"},{"n":544.2,"p":172,"label":"172.00","kind":"axis"},{"n":544.2,"p":171,"label":"171.00","kind":"axis"},{"n":544.2,"p":170,"label":"170.00","kind":"axis"},{"n":544.2,"p":169,"label":"169.00","kind":"axis"}
],
"textFib":[
{"n":132.2,"p":189.60,"label":"0 (189.30)","kind":"fibPale"},
{"n":132.2,"p":187.66,"label":"1 (187.35)","kind":"fibPale"},
{"n":132.2,"p":186.46,"label":"1.618 (186.15)","kind":"fibStrong"},
{"n":132.2,"p":184.52,"label":"2.618 (184.20)","kind":"fibStrong"},
{"n":132.2,"p":183.30,"label":"3.236 (183.00)","kind":"fibPale"},
{"n":132.2,"p":181.35,"label":"4.236 (181.05)","kind":"fibStrong"},
{"n":132.2,"p":180.15,"label":"4.854 (179.85)","kind":"fibPale"},
{"n":132.2,"p":179.41,"label":"5.236 (179.10)","kind":"fibMid"},
{"n":132.2,"p":178.81,"label":"5.545 (178.50)","kind":"fibPale"},
{"n":132.2,"p":178.21,"label":"5.854 (177.90)","kind":"fibMid"},
{"n":132.2,"p":177.47,"label":"6.236 (177.15)","kind":"fibPale"},
{"n":132.2,"p":176.25,"label":"6.853 (175.95)","kind":"fibStrong"},
{"n":132.2,"p":174.31,"label":"7.852 (174.01)","kind":"fibPale"},
{"n":132.2,"p":173.11,"label":"8.471 (172.80)","kind":"fibMid"},
{"n":132.2,"p":172.12,"label":"8.971 (171.83)","kind":"fibPale"},
{"n":132.2,"p":171.17,"label":"9.471 (170.86)","kind":"fibMid"},
{"n":132.2,"p":169.97,"label":"10.089 (169.65)","kind":"fibPale"}
],
"textRight":[
{"n":537.3,"p":189.38,"label":"16.325 (188.98)","kind":"bigLight"},
{"n":517.7,"p":187.23,"label":"160.961","kind":"midLight"},
{"n":537.3,"p":182.79,"label":"15.325 (182.39)","kind":"bigBlue"},
{"n":538,"p":182.19,"label":"(181.95)","kind":"smallBlue"},
{"n":538,"p":179.89,"label":"(179.57)","kind":"redSmall"},
{"n":537.3,"p":177.45,"label":"14.515 (177.05)","kind":"bigLight"},
{"n":538,"p":176.78,"label":"(177.04)","kind":"midBlue"},
{"n":538,"p":175.58,"label":"(175.34)","kind":"smallBlue"},
{"n":538,"p":175.07,"label":"(174.78)","kind":"orange"},
{"n":537.3,"p":172.12,"label":"13.706 (171.71)","kind":"bigBlue"},
{"n":538,"p":171.07,"label":"(170.83)","kind":"purple"}
],
"textRightBold":[{"n":538,"p":187.23,"label":"(187.49)","kind":"midLight"}],
"ticks":[
{"n":37.9,"p":168.19,"label":"10"},{"n":86.8,"p":168.19,"label":"11"},{"n":135.4,"p":168.19,"label":"12"},{"n":233.3,"p":168.19,"label":"16"},{"n":282.3,"p":168.19,"label":"17"},{"n":330.9,"p":168.19,"label":"18"},{"n":379.9,"p":168.19,"label":"19"},{"n":477.5,"p":168.19,"label":"23"},{"n":526.4,"p":168.19,"label":"24"}
],
"ticksBold":[{"n":184.4,"p":168.19,"label":"15"},{"n":428.9,"p":168.19,"label":"22"}]
},
"encoding":{
"x":{"field":"n","type":"quantitative","axis":null,"scale":{"domain":[0.89,559.8],"nice":false,"zero":false,"padding":0}},
"y":{"field":"p","type":"quantitative","axis":null,"scale":{"domain":[167.86,192.09],"nice":false,"zero":false}}
},
"layer":[
{"data":{"name":"zones"},"mark":{"type":"rect"},
"encoding":{"x2":{"field":"to"},"y2":{"field":"p2"},
"color":{"field":"zone","type":"nominal","legend":null,"scale":{"domain":["pink","green1","green2","green3"],"range":["#fdeeef","#eff7f1","#f5faf6","#e8f3ea"]}}}},
{"data":{"name":"textFib"},"mark":{"type":"text","align":"right","baseline":"middle","dy":1},
"encoding":{"text":{"field":"label"},"size":{"value":13.7},
"color":{"field":"kind","type":"nominal","legend":null,"scale":{"domain":["fibPale","fibMid","fibStrong"],"range":["#ffcdd2","#f7a6a8","#f77c80"]}}}},
{"data":{"name":"levels"},"mark":{"type":"rule"},
"encoding":{"x2":{"field":"to"},
"color":{"field":"style","type":"nominal","legend":null,"scale":{"domain":["fibPale","fibMid","fibStrong","pinkBase","greenBase","blueDash","blueThick","dotGreen","dotBlue","dotLight","greyPink","purple","axisLine"],"range":["#ffcdd2","#f5a6a8","#f77c80","#f6b8c0","#cfe6cf","#7fb8e8","#90caf9","#80cbc4","#64b5f6","#a5d6a7","#d8a8a8","#8e8ea8","#50535e"]}},
"strokeDash":{"field":"style","type":"nominal","legend":null,"scale":{"domain":["fibPale","fibMid","fibStrong","pinkBase","greenBase","blueDash","blueThick","dotGreen","dotBlue","dotLight","greyPink","purple","axisLine"],"range":[[1,0],[1,0],[1,0],[1,0],[1,0],[6,3,2,3],[1,0],[1,2],[1,2],[2,2],[1,0],[1,0],[1,0]]}},
"strokeWidth":{"field":"style","type":"ordinal","legend":null,"scale":{"type":"ordinal","domain":["fibPale","fibMid","fibStrong","pinkBase","greenBase","blueDash","blueThick","dotGreen","dotBlue","dotLight","greyPink","purple","axisLine"],"range":[1,1,1,1,1,1,2,1,1,1,1,1,1]}}}},
{"data":{"name":"frame"},"mark":{"type":"rule","color":"#50535e","strokeWidth":1},
"encoding":{"y2":{"field":"p2"}}},
{"data":{"name":"bars"},"mark":{"type":"rule","color":"#6b6b6b","strokeWidth":1},
"encoding":{"y":{"field":"h","type":"quantitative","axis":null,"scale":{"domain":[167.86,192.09],"nice":false,"zero":false}},"y2":{"field":"l"}}},
{"data":{"name":"bars"},"mark":{"type":"bar","size":2.1,"strokeWidth":1},
"encoding":{"y":{"field":"o","type":"quantitative","axis":null,"scale":{"domain":[167.86,192.09],"nice":false,"zero":false}},"y2":{"field":"c"},
"color":{"condition":{"test":"datum.c >= datum.o","value":"#3f8f68"},"value":"#e8462f"},
"stroke":{"condition":{"test":"datum.c >= datum.o","value":"#1f5a40"},"value":"#7a1c16"}}},
{"data":{"name":"arrows"},"mark":{"type":"point","filled":true,"opacity":1,"color":"#4caf50","size":441,"shape":"M0,-1 L0.86,-0.05 L0.45,-0.05 L0.45,1 L-0.45,1 L-0.45,-0.05 L-0.86,-0.05 Z"}},
{"data":{"name":"logo"},"mark":{"type":"point","filled":true,"opacity":1,"color":"#d1d4dc","size":400,"shape":"M-1,-0.5 L-0.2,-0.5 L-0.2,0.5 L-0.6,0.5 L-0.6,-0.1 L-1,-0.1 Z M-0.17,-0.28 a0.2,0.2 0 1,0 0.4,0 a0.2,0.2 0 1,0 -0.4,0 M0.4,-0.5 L1,-0.5 L0.5,0.5 L-0.1,0.5 Z"}},
{"data":{"name":"textLeft"},"mark":{"type":"text","align":"left","baseline":"middle","dy":1},
"encoding":{"text":{"field":"label"},
"size":{"field":"kind","type":"ordinal","legend":null,"scale":{"type":"ordinal","domain":["header","symbol","footer","axis"],"range":[11.5,11.4,12.1,10.3]}},
"color":{"field":"kind","type":"nominal","legend":null,"scale":{"domain":["header","symbol","footer","axis"],"range":["#d1d4dc","#4a4a4a","#b2b5be","#555555"]}}}},
{"data":{"name":"textRight"},"mark":{"type":"text","align":"right","baseline":"middle","dy":1},
"encoding":{"text":{"field":"label"},
"size":{"field":"kind","type":"ordinal","legend":null,"scale":{"type":"ordinal","domain":["bigLight","bigBlue","midLight","midBlue","smallBlue","redSmall","orange","purple"],"range":[19.7,19.7,13,13.4,11.6,13.4,13.4,11.6]}},
"color":{"field":"kind","type":"nominal","legend":null,"scale":{"domain":["bigLight","bigBlue","midLight","midBlue","smallBlue","redSmall","orange","purple"],"range":["#90caf9","#64b5f6","#90caf9","#64b5f6","#64b5f6","#f7a6a8","#f4a58f","#9a9ac0"]}}}},
{"data":{"name":"textRightBold"},"mark":{"type":"text","align":"right","baseline":"middle","fontWeight":"bold","fontSize":13,"color":"#90caf9","dy":1},
"encoding":{"text":{"field":"label"}}},
{"data":{"name":"ticks"},"mark":{"type":"text","align":"center","baseline":"middle","fontSize":10.5,"color":"#555555","dy":1},
"encoding":{"text":{"field":"label"}}},
{"data":{"name":"ticksBold"},"mark":{"type":"text","align":"center","baseline":"middle","fontSize":10.5,"fontWeight":"bold","color":"#555555","dy":1},
"encoding":{"text":{"field":"label"}}}
]
}
